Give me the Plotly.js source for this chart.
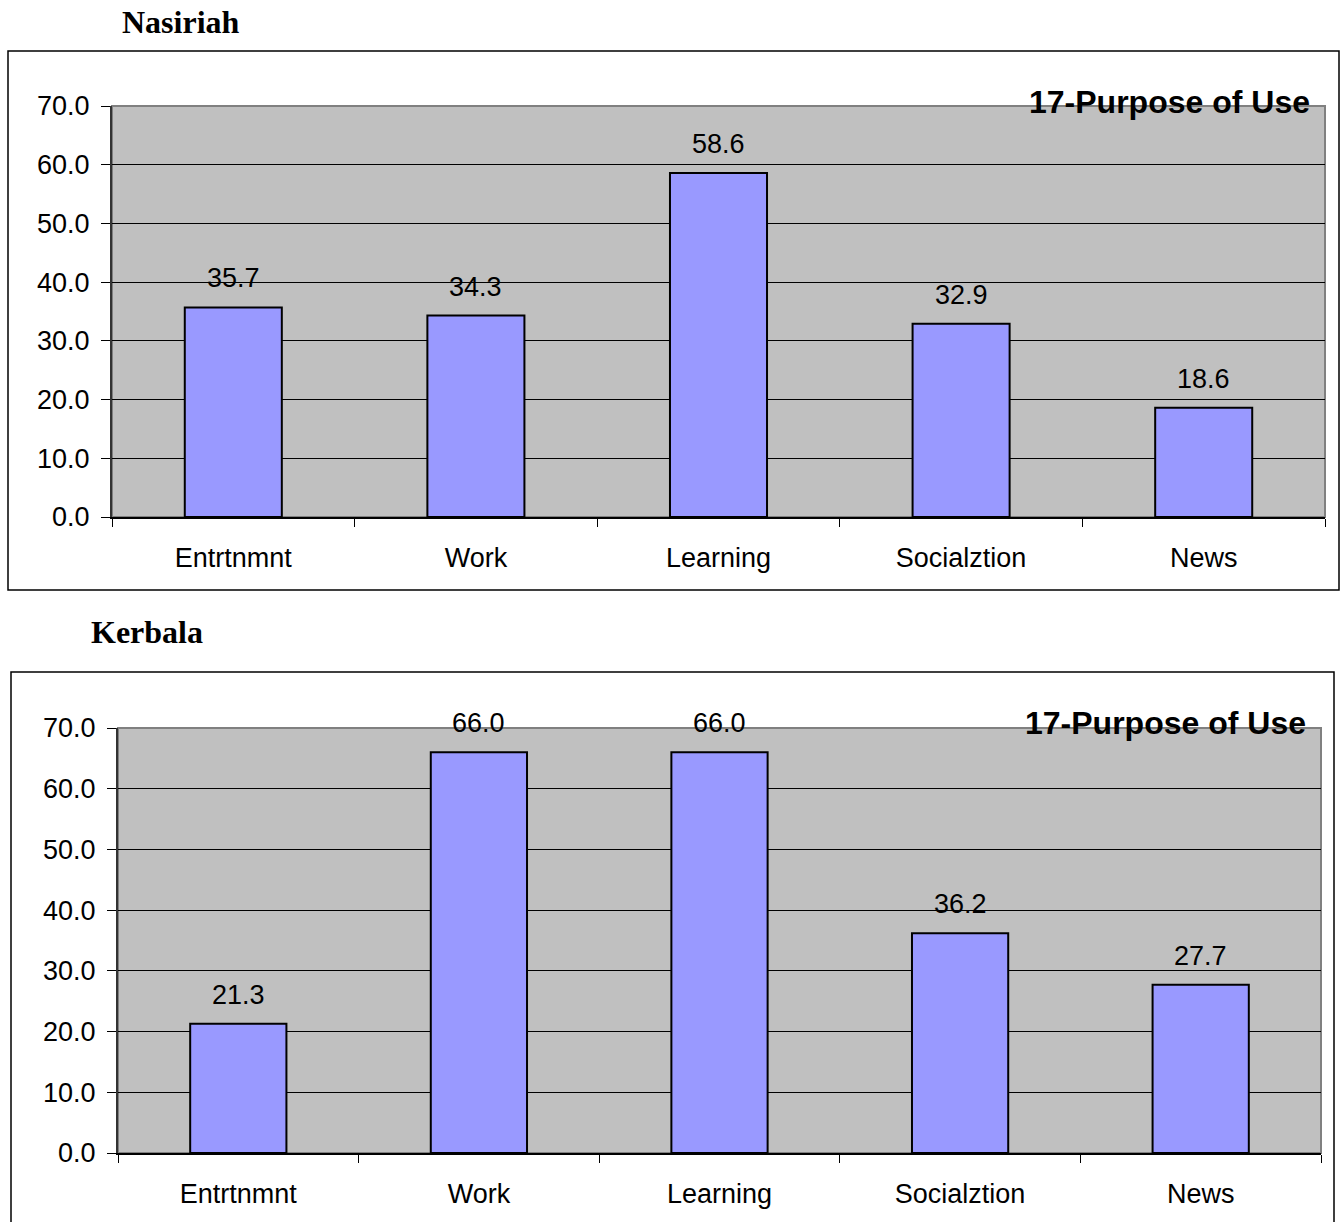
<!DOCTYPE html>
<html>
<head>
<meta charset="utf-8">
<script src="https://cdn.plot.ly/plotly-3.0.1.min.js"></script>
<style>
  html, body { margin: 0; padding: 0; background: #fff; }
  #chart { width: 1341px; height: 1222px; }
</style>
</head>
<body>
<div id="chart"></div>
<script>
// Purpose of internet use (%), two cities
const categories = ["Entrtnmnt", "Work", "Learning", "Socialztion", "News"];
const nasiriahValues = [35.7, 34.3, 58.6, 32.9, 18.6];
const kerbalaValues = [21.3, 66.0, 66.0, 36.2, 27.7];
const yTickValues = [0, 10, 20, 30, 40, 50, 60, 70];
const yTickLabels = ["0.0", "10.0", "20.0", "30.0", "40.0", "50.0", "60.0", "70.0"];
const cityTitles = ["Nasiriah", "Kerbala"];
const chartTitle = "17-Purpose of Use";

const W = 1341, H = 1222;
const px = v => v / W;
const py = v => 1 - v / H;

const barStyle = { color: "#9999FF", line: { color: "#000000", width: 2 } };

function barTrace(values, xa, ya) {
  return {
    type: "bar", x: categories, y: values, xaxis: xa, yaxis: ya,
    marker: barStyle, hoverinfo: "x+y", showlegend: false
  };
}

const traces = [
  barTrace(nasiriahValues, "x", "y"),
  barTrace(kerbalaValues, "x2", "y2")
];

const tickFont = { family: "Liberation Sans, Arial, sans-serif", size: 27, color: "#000" };

function xAxis(domain, anchor) {
  return {
    domain: domain, anchor: anchor, type: "category",
    showline: true, linecolor: "#000", linewidth: 1.5,
    ticks: "outside", tickson: "boundaries", ticklen: 8, tickcolor: "#000", tickwidth: 1,
    showgrid: false, zeroline: false, tickfont: tickFont, ticklabelstandoff: 16,
    fixedrange: true
  };
}
function yAxis(domain, anchor) {
  return {
    domain: domain, anchor: anchor, range: [0, 70],
    tickvals: yTickValues, ticktext: yTickLabels,
    showline: true, linecolor: "#333", linewidth: 2,
    ticks: "outside", ticklen: 9, tickcolor: "#000", tickwidth: 1,
    showgrid: true, gridcolor: "#000", gridwidth: 1, zeroline: false,
    tickfont: tickFont, ticklabelstandoff: 6, fixedrange: true
  };
}

// value labels above each bar
const valueLabels = [];
[[nasiriahValues, "x", "y"], [kerbalaValues, "x2", "y2"]].forEach(([vals, xa, ya]) => {
  vals.forEach((v, i) => {
    valueLabels.push({
      x: categories[i], y: v, xref: xa, yref: ya,
      text: v.toFixed(1), showarrow: false, yanchor: "bottom", yshift: 12,
      font: tickFont
    });
  });
});

const titleFont = { family: "Liberation Serif, Times New Roman, serif", size: 32, color: "#000", weight: "bold" };
const headFont = { family: "Liberation Sans, Arial, sans-serif", size: 32, color: "#000", weight: "bold" };

const annotations = valueLabels.concat([
  { xref: "paper", yref: "paper", x: px(181), y: py(22), text: "<b>" + cityTitles[0] + "</b>",
    showarrow: false, xanchor: "center", yanchor: "middle", font: titleFont },
  { xref: "paper", yref: "paper", x: px(147), y: py(632), text: "<b>" + cityTitles[1] + "</b>",
    showarrow: false, xanchor: "center", yanchor: "middle", font: titleFont },
  { xref: "paper", yref: "paper", x: px(1312), y: py(102), text: "<b>" + chartTitle + "</b>",
    showarrow: false, xanchor: "right", yanchor: "middle", font: headFont },
  { xref: "paper", yref: "paper", x: px(1308), y: py(723), text: "<b>" + chartTitle + "</b>",
    showarrow: false, xanchor: "right", yanchor: "middle", font: headFont }
]);

const shapes = [
  // outer chart frames
  { type: "rect", xref: "paper", yref: "paper", x0: px(8), x1: px(1339), y0: py(590), y1: py(51),
    line: { color: "#000", width: 1.5 }, fillcolor: "rgba(0,0,0,0)", layer: "below" },
  { type: "rect", xref: "paper", yref: "paper", x0: px(11), x1: px(1334), y0: py(1240), y1: py(672),
    line: { color: "#000", width: 1.5 }, fillcolor: "rgba(0,0,0,0)", layer: "below" },
  // plot-area borders (grey)
  { type: "rect", xref: "x domain", yref: "y domain", x0: 0, x1: 1, y0: 0, y1: 1,
    line: { color: "#808080", width: 2 }, fillcolor: "rgba(0,0,0,0)", layer: "below" },
  { type: "rect", xref: "x2 domain", yref: "y2 domain", x0: 0, x1: 1, y0: 0, y1: 1,
    line: { color: "#808080", width: 2 }, fillcolor: "rgba(0,0,0,0)", layer: "below" }
];

const layout = {
  width: W, height: H,
  margin: { l: 0, r: 0, t: 0, b: 0 },
  paper_bgcolor: "#fff", plot_bgcolor: "#C0C0C0",
  bargap: 0.6, showlegend: false,
  font: { family: "Liberation Sans, Arial, sans-serif", color: "#000" },
  xaxis: xAxis([px(112), px(1325)], "y"),
  yaxis: yAxis([py(517), py(106)], "x"),
  xaxis2: xAxis([px(118), px(1321)], "y2"),
  yaxis2: yAxis([py(1153), py(728)], "x2"),
  annotations: annotations,
  shapes: shapes
};

Plotly.newPlot("chart", traces, layout, { displayModeBar: false, staticPlot: true });
</script>
</body>
</html>
